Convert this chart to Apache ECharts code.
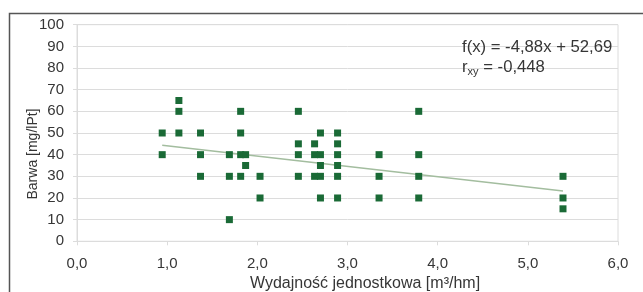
<!DOCTYPE html>
<html>
<head>
<meta charset="utf-8">
<script src="https://cdn.jsdelivr.net/npm/echarts@6/dist/echarts.min.js"></script>
<style>
html,body{margin:0;padding:0;background:#fff;}
#c{width:643px;height:292px;}
</style>
</head>
<body>
<div id="c"></div>
<script>
// Data
const pointX = [
  0.945, 0.945,
  1.13, 1.13, 1.13,
  1.37, 1.37, 1.37,
  1.69, 1.69, 1.69,
  1.815, 1.815, 1.815, 1.815,
  1.87, 1.87,
  2.03, 2.03,
  2.455, 2.455, 2.455, 2.455,
  2.635, 2.635, 2.635,
  2.70, 2.70, 2.70, 2.70, 2.70,
  2.89, 2.89, 2.89, 2.89, 2.89, 2.89,
  3.35, 3.35, 3.35,
  3.79, 3.79, 3.79, 3.79,
  5.39, 5.39, 5.39
];
const pointY = [
  50, 40,
  65, 60, 50,
  50, 40, 30,
  40, 30, 10,
  60, 50, 40, 30,
  40, 35,
  30, 20,
  60, 45, 40, 30,
  45, 40, 30,
  50, 40, 35, 30, 20,
  50, 45, 40, 35, 30, 20,
  40, 30, 20,
  60, 40, 30, 20,
  30, 20, 15
];
const trendX = [0.945, 5.39];
const trendY = [44.3, 23.2];
const xTicks = [0, 1, 2, 3, 4, 5, 6];
const yTicks = [0, 10, 20, 30, 40, 50, 60, 70, 80, 90, 100];
const xTitle = 'Wydajność jednostkowa [m³/hm]';
const yTitle = 'Barwa [mg/lPt]';
const eqLine1 = 'f(x) = -4,88x + 52,69';
const eqLine2Value = ' = -0,448';

const scatterData = pointX.map((x, i) => [x, pointY[i]]);
const trendData = trendX.map((x, i) => [x, trendY[i]]);

const FONT = '"Liberation Sans", Arial, sans-serif';
const TXT = '#363636';
const GRID = '#dcdcdc';

const chart = echarts.init(document.getElementById('c'), null, {renderer: 'canvas'});
chart.setOption({
  backgroundColor: '#ffffff',
  animation: false,
  grid: {left: 77, right: 25, top: 24.7, bottom: 50.7, show: true, borderColor: GRID, borderWidth: 1},
  xAxis: {
    type: 'value', min: xTicks[0], max: xTicks[xTicks.length - 1], interval: 1,
    axisLine: {show: true, lineStyle: {color: GRID}},
    axisTick: {show: true, length: 4, lineStyle: {color: GRID}},
    axisLabel: {fontFamily: FONT, fontSize: 15, color: TXT, margin: 15,
      formatter: v => v.toFixed(1).replace('.', ',')},
    splitLine: {show: false}
  },
  yAxis: {
    type: 'value', min: yTicks[0], max: yTicks[yTicks.length - 1], interval: 10,
    axisLine: {show: true, lineStyle: {color: GRID}},
    axisTick: {show: true, length: 4, lineStyle: {color: GRID}},
    axisLabel: {fontFamily: FONT, fontSize: 15, color: TXT, margin: 13},
    splitLine: {show: true, lineStyle: {color: GRID, width: 1}}
  },
  series: [
    {
      type: 'line', data: trendData, symbol: 'none', silent: true,
      lineStyle: {color: '#a3bd9f', width: 1.5}, z: 1
    },
    {
      type: 'scatter', data: scatterData, symbol: 'rect', symbolSize: 7,
      itemStyle: {color: '#1a6a36', opacity: 1}, z: 2
    }
  ],
  graphic: [
    {type: 'rect', shape: {x: 9.5, y: 13.5, width: 700, height: 400},
      style: {fill: 'none', stroke: '#555', lineWidth: 1.5}, silent: true, z: 100},
    {type: 'text', x: 33, y: 154, rotation: Math.PI / 2, z: 100,
      style: {text: yTitle, font: '14px ' + FONT, fill: TXT, align: 'center', verticalAlign: 'middle'}},
    {type: 'text', x: 365, y: 284, z: 100,
      style: {text: xTitle, font: '16px ' + FONT, fill: TXT, align: 'center', verticalAlign: 'middle'}},
    {type: 'text', left: 462, top: 39, z: 100,
      style: {text: eqLine1, font: '16.7px ' + FONT, fill: TXT}},
    {type: 'text', left: 462, top: 58, z: 100,
      style: {
        text: '{r|r}{s|xy}{v|' + eqLine2Value + '}',
        rich: {
          r: {font: '16.7px ' + FONT, fill: TXT, verticalAlign: 'top', lineHeight: 18},
          s: {font: '11px ' + FONT, fill: TXT, verticalAlign: 'bottom', lineHeight: 18, padding: [8, 0, 0, 0]},
          v: {font: '16.7px ' + FONT, fill: TXT, verticalAlign: 'top', lineHeight: 18}
        }
      }}
  ]
});
</script>
</body>
</html>
